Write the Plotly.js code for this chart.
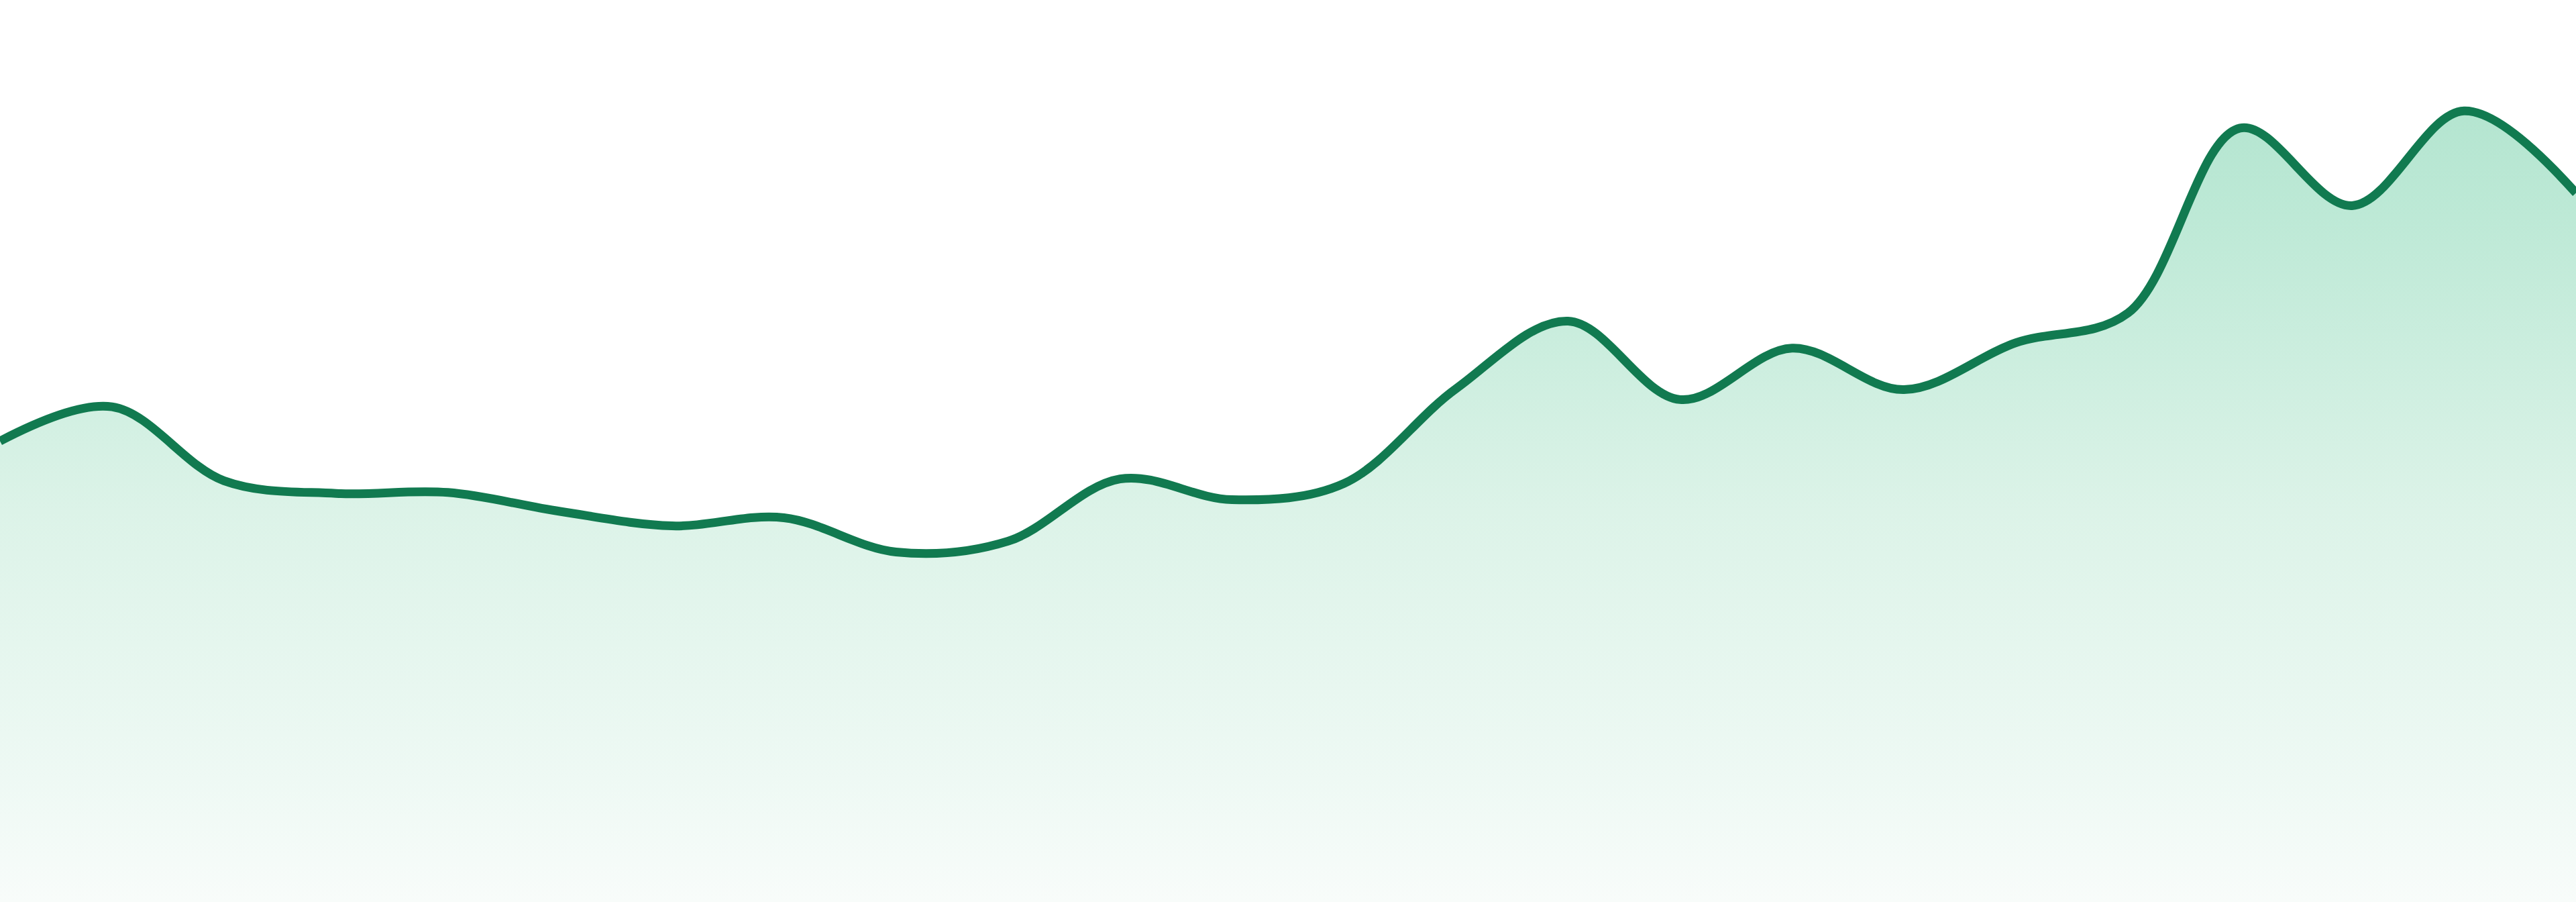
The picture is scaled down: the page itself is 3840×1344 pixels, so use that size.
<!DOCTYPE html>
<html>
<head>
<meta charset="utf-8">
<script src="https://cdn.plot.ly/plotly-3.0.1.min.js"></script>
<style>
  html, body { margin: 0; padding: 0; background: #ffffff; overflow: hidden; }
  #chart { width: 3840px; height: 1344px; }
</style>
</head>
<body>
<div id="chart"></div>
<script>
// one point per period, no labels shown on the chart
const periods = [0, 1, 2, 3, 4, 5, 6, 7, 8, 9, 10, 11, 12, 13, 14, 15, 16, 17, 18, 19, 20, 21, 22, 23];
const values = [51.1, 54.9, 46.7, 45.3, 45.4, 43.3, 41.7, 42.6, 38.8, 40.0, 46.9, 44.6,
                46.4, 56.9, 64.4, 55.7, 61.4, 56.8, 62.0, 65.3, 85.8, 77.2, 87.7, 78.6];

// gradient stops for the area under the line (bottom -> top)
const gradientStops = [0, 0.156, 0.496, 0.867, 1];
const gradientColors = ["rgb(248,252,250)", "rgb(238,249,244)", "rgb(220,243,232)",
                        "rgb(189,233,214)", "rgb(180,229,208)"];

let topValue = Math.max(...values);

let trace = {
    type: "scatter",
    mode: "lines",
    x: periods,
    y: values,
    line: { color: "#117a50", width: 13, shape: "spline", smoothing: 1 },
    fill: "tozeroy",
    fillgradient: {
        type: "vertical",
        start: 0,
        stop: topValue,
        colorscale: gradientStops.map((s, i) => [s, gradientColors[i]])
    },
    hoverinfo: "skip",
    showlegend: false
};

let layout = {
    width: 3840,
    height: 1344,
    margin: { l: 0, r: 0, t: 0, b: 0, pad: 0 },
    paper_bgcolor: "#ffffff",
    plot_bgcolor: "#ffffff",
    showlegend: false,
    xaxis: { range: [0, periods.length - 1], visible: false, fixedrange: true },
    yaxis: { range: [0, 100], visible: false, fixedrange: true }
};

Plotly.newPlot("chart", [trace], layout, { staticPlot: true, displayModeBar: false });
</script>
</body>
</html>
